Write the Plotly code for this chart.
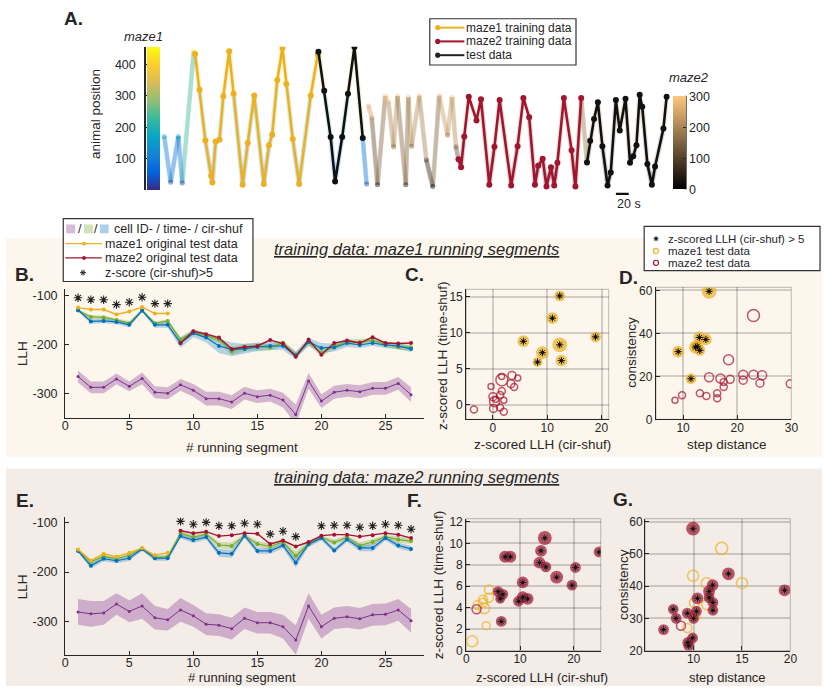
import plotly.graph_objects as go

W, H = 829, 693
def PX(x): return x / W
def PY(y): return 1 - y / H

FONT = "Liberation Sans, Arial, Helvetica, sans-serif"
INK = "#262626"
ORANGE = "#EDB120"; RED = "#A2142F"; BLUE = "#0072BD"; GREEN = "#77AC30"; PURPLE = "#7E2F8E"
BAND1 = "#FDF6EC"; BAND2 = "#F4ECE6"
PARULA = [[0.0, '#352A87'], [0.125, '#0363E1'], [0.25, '#1485D4'], [0.375, '#06A7C6'],
          [0.5, '#38B99E'], [0.625, '#92BF73'], [0.75, '#D9BA56'], [0.875, '#FCCE2E'], [1.0, '#F9FB0E']]
COPPER = [[0.0, '#000000'], [1.0, '#FFC77F']]

# ---------------- Panel A : animal position over time (s) ----------------
m1_pre_t = [28, 38, 50, 56, 74]
m1_pre_pos = [171, 25, 171, 22, 443]
m1_train_t = [76, 83, 92, 101, 103, 108, 114, 120, 129, 136, 150, 158, 168, 183, 191, 196, 204, 212, 218, 228, 238, 256, 267]
m1_train_pos = [434, 320, 158, 45, 24, 155, 160, 299, 443, 307, 17, 150, 302, 19, 143, 176, 351, 453, 338, 163, 19, 302, 432]
m1_test_t = [268, 277, 287, 294, 305, 314, 324, 337]
m1_test_pos = [441, 317, 169, 27, 169, 307, 456, 166]
m1_post_t = [337, 343]
m1_post_pos = [166, 19]

m2_pre_t = [346, 351, 360, 372, 377, 385, 391, 404, 408, 413, 425, 436, 446, 456, 469, 476, 482, 486]
m2_pre_pos = [268, 230, 17, 300, 280, 138, 300, 17, 296, 140, 301, 96, 11, 301, 175, 296, 138, 98]
m2_train_t = [486, 490, 495, 502, 514, 521, 534, 542, 550, 568, 578, 587, 596, 605, 610, 617, 623, 630, 635, 640, 650, 662, 668, 677]
m2_train_pos = [98, 73, 171, 298, 222, 290, 17, 138, 287, 14, 140, 294, 232, 17, 77, 100, 11, 73, 14, 87, 294, 127, 11, 294]
m2_gap_t = [677, 686]
m2_gap_pos = [294, 88]
m2_test_t = [686, 691, 697, 703, 710, 718, 723, 731, 737, 746, 753, 758, 763, 768, 772, 780, 787, 792, 805, 810]
m2_test_pos = [88, 157, 227, 280, 140, 14, 56, 287, 190, 291, 87, 108, 143, 304, 266, 83, 17, 75, 196, 298]
scale_bar_start = 731
scale_bar_len = 20
maze1_max = 457
maze2_max = 300

# ---------------- Panels B / E : LLH per running segment ----------------
segments = list(range(1, 28))
m1_segments = list(range(1, 9))
m2_segments = list(range(9, 28))

b_orange = [-125, -129, -129, -139, -133, -124, -137, -137]
b_blue = [-130, -153, -152, -154, -160, -131, -160, -160, -197, -177, -186, -203, -210, -209, -205, -203, -203, -222, -195, -207, -206, -197, -201, -197, -201, -203, -209]
b_green = [-131, -144, -145, -150, -157, -131, -157, -152, -190, -175, -182, -190, -214, -206, -204, -206, -197, -221, -195, -217, -203, -195, -195, -191, -199, -205, -206]
b_red = [-197, -173, -179, -186, -209, -205, -203, -191, -198, -225, -190, -221, -197, -192, -197, -185, -197, -198, -197]
b_purple = [-265, -287, -287, -270, -285, -269, -297, -299, -282, -293, -310, -310, -317, -299, -306, -303, -313, -342, -274, -315, -297, -293, -296, -289, -289, -279, -302]
b_purple_sd = [12, 12, 12, 11, 10, 12, 12, 12, 12, 13, 14, 14, 14, 13, 13, 13, 15, 20, 16, 14, 13, 13, 13, 13, 13, 13, 15]
b_blue_sd = [3, 5, 5, 5, 5, 3, 6, 6, 10, 8, 10, 14, 14, 10, 8, 8, 8, 8, 8, 10, 8, 8, 6, 6, 6, 6, 6]
b_green_sd = [3, 4, 4, 4, 5, 3, 4, 4, 6, 5, 6, 6, 8, 8, 8, 6, 6, 6, 6, 8, 6, 6, 6, 6, 6, 6, 6]
b_star_x = [1, 2, 3, 4, 5, 6, 7, 8]
b_star_y = [-105, -109, -109, -119, -114, -104, -117, -117]

e_orange = [-154, -177, -163, -169, -161, -151, -166, -161]
e_blue = [-157, -187, -173, -177, -172, -153, -172, -172, -127, -135, -129, -161, -163, -126, -157, -157, -146, -181, -143, -131, -156, -134, -151, -151, -131, -146, -153]
e_green = [-156, -179, -168, -173, -166, -152, -171, -169, -121, -129, -123, -145, -147, -126, -143, -148, -139, -167, -143, -129, -140, -129, -146, -139, -128, -134, -137]
e_red = [-116, -121, -118, -127, -125, -121, -122, -143, -136, -148, -139, -126, -124, -124, -128, -125, -121, -124, -131]
e_purple = [-281, -285, -283, -265, -280, -269, -293, -297, -277, -289, -306, -308, -315, -294, -303, -303, -311, -338, -269, -311, -294, -291, -295, -287, -286, -277, -299]
e_purple_sd = [26, 26, 24, 22, 22, 26, 24, 22, 24, 22, 22, 22, 22, 22, 22, 22, 24, 30, 26, 24, 22, 22, 22, 22, 22, 22, 24]
e_blue_sd = [4, 6, 5, 5, 5, 4, 5, 5, 5, 6, 5, 8, 8, 5, 6, 6, 6, 10, 6, 5, 6, 5, 7, 7, 5, 6, 6]
e_green_sd = [3, 5, 4, 4, 4, 3, 4, 4, 4, 5, 4, 6, 7, 4, 6, 6, 6, 9, 6, 4, 6, 4, 6, 6, 4, 6, 6]
e_star_x = [9, 10, 11, 12, 13, 14, 15, 16, 17, 18, 20, 21, 22, 23, 24, 25, 26, 27]
e_star_y = [-97, -103, -99, -106, -106, -101, -103, -123, -117, -128, -106, -105, -105, -109, -106, -103, -105, -113]

# ---------------- Panel C : z-scores (maze1 training) ----------------
c_m1_x = [12.3, 10.95, 5.6, 18.9, 12.3, 9.1, 8.2, 12.6]
c_m1_y = [15.1, 12.0, 8.8, 9.4, 8.3, 7.2, 5.9, 6.1]
c_m1_s = [9, 10, 10, 9, 13, 11, 8, 10]
c_m2_x = [1.64, 3.5, 4.56, 3.3, 3.9, 1.6, -0.36, 1.64, 1.34, 0.0, 0.3, 2.0, 0.1, 1.3, 2.0, -3.5, 0.5]
c_m2_y = [3.45, 4.05, 3.7, 2.9, 2.45, 3.9, 2.5, 1.87, 1.32, 1.09, 0.4, 0.6, -0.55, -0.4, -1.0, -0.68, 0.73]
c_m2_s = [12, 8, 6, 8, 7, 6, 6, 7, 7, 8, 10, 6, 8, 7, 7, 7, 6]

# ---------------- Panel D : step distance vs consistency (maze1 training) ----------------
d_m1_x = [14.8, 13.0, 14.2, 12.3, 12.6, 13.1, 9.1, 11.45]
d_m1_y = [59.6, 38.1, 37.2, 33.6, 34.0, 32.1, 31.5, 18.9]
d_m1_s = [13, 10, 10, 11, 10, 9, 10, 9]
d_m2_x = [23.0, 18.4, 14.8, 16.9, 17.5, 17.5, 18.7, 21.1, 21.1, 23.0, 24.6, 24.2, 29.8, 13.1, 14.3, 16.3, 16.3, 9.8, 8.5]
d_m2_y = [48.3, 27.7, 19.6, 19.0, 17.4, 15.0, 18.6, 20.8, 18.2, 20.8, 20.5, 16.8, 16.5, 12.1, 10.9, 12.1, 9.8, 11.2, 8.9]
d_m2_s = [12, 10, 9, 9, 7, 7, 8, 9, 8, 9, 9, 8, 8, 7, 7, 7, 7, 7, 6]

# ---------------- Panel F : z-scores (maze2 training) ----------------
f_m2_x = [14.6, 13.9, 24.7, 7.2, 8.2, 13.6, 14.8, 20.3, 16.8, 10.5, 19.65, 5.9, 6.8, 6.3, 10.5, 9.7, 11.4, 6.5]
f_m2_y = [10.5, 9.3, 9.2, 8.75, 8.75, 8.2, 7.8, 7.75, 6.85, 6.36, 6.1, 5.5, 5.25, 4.83, 4.98, 4.6, 4.83, 2.72]
f_m2_s = [12, 10, 9, 10, 10, 10, 9, 9, 11, 10, 9, 9, 9, 8, 10, 9, 10, 9]
f_m2_open_x = [1.9]
f_m2_open_y = [3.85]
f_m1_x = [4.2, 4.2, 3.1, 3.1, 2.15, 3.3, 3.7, 1.1]
f_m1_y = [5.7, 4.93, 4.75, 4.45, 4.25, 3.95, 2.32, 0.86]
f_m1_s = [9, 9, 9, 9, 9, 11, 8, 11]

# ---------------- Panel G : step distance vs consistency (maze2 training) ----------------
g_m2_x = [9.95, 13.6, 19.4, 11.97, 11.6, 10.4, 11.6, 12.0, 12.0, 10.3, 7.9, 9.35, 8.2, 10.0, 6.9, 9.9, 9.4, 9.5]
g_m2_y = [57.8, 43.8, 38.7, 40.3, 38.4, 36.2, 36.4, 34.9, 32.5, 32.2, 32.8, 31.6, 30.0, 30.0, 26.5, 23.9, 22.5, 21.5]
g_m2_s = [12, 11, 10, 10, 10, 10, 9, 9, 9, 9, 9, 9, 9, 9, 9, 9, 9, 9]
g_m2_open_x = [8.7]
g_m2_open_y = [27.7]
g_m1_x = [12.9, 9.95, 15.0, 11.36, 10.1, 11.36, 10.15, 9.35]
g_m1_y = [51.7, 43.2, 40.9, 40.9, 34.8, 34.2, 30.9, 27.0]
g_m1_s = [12, 11, 11, 11, 10, 10, 10, 9]

# ---------------- helpers ----------------
def hex2rgb(h):
    h = h.lstrip('#')
    return tuple(int(h[i:i + 2], 16) for i in (0, 2, 4))

def cmap(scale, v):
    v = min(max(v, 0.0), 1.0)
    for (p0, c0), (p1, c1) in zip(scale[:-1], scale[1:]):
        if v <= p1:
            f = (v - p0) / (p1 - p0) if p1 > p0 else 0
            a, b = hex2rgb(c0), hex2rgb(c1)
            return 'rgb(%d,%d,%d)' % tuple(round(a[i] + (b[i] - a[i]) * f) for i in range(3))
    return scale[-1][1]

fig = go.Figure()

def faded(t, p, scale, vmax, width, opacity):
    for i in range(len(t) - 1):
        col = cmap(scale, (p[i] + p[i + 1]) / 2 / vmax)
        fig.add_trace(go.Scatter(x=[t[i], t[i + 1]], y=[p[i], p[i + 1]], mode='lines',
                                 line=dict(color=col, width=width), opacity=opacity,
                                 hoverinfo='skip', xaxis='x', yaxis='y'))
    fig.add_trace(go.Scatter(x=t, y=p, mode='markers', opacity=opacity, hoverinfo='skip',
                             marker=dict(size=5, color=p, colorscale=scale, cmin=0, cmax=vmax),
                             xaxis='x', yaxis='y'))

m1_all_t = m1_pre_t + m1_train_t + m1_test_t + m1_post_t
m1_all_p = m1_pre_pos + m1_train_pos + m1_test_pos + m1_post_pos
m2_all_t = m2_pre_t + m2_train_t + m2_gap_t + m2_test_t
m2_all_p = m2_pre_pos + m2_train_pos + m2_gap_pos + m2_test_pos
faded(m1_all_t, m1_all_p, PARULA, maze1_max, 5, 0.2)
faded(m2_all_t, m2_all_p, COPPER, maze2_max, 5, 0.2)
faded(m1_pre_t, m1_pre_pos, PARULA, maze1_max, 4, 0.3)
faded(m1_post_t, m1_post_pos, PARULA, maze1_max, 4, 0.3)
faded(m2_pre_t, m2_pre_pos, COPPER, maze2_max, 4, 0.3)
faded(m2_gap_t, m2_gap_pos, COPPER, maze2_max, 4, 0.3)

def main_line(t, p, col):
    fig.add_trace(go.Scatter(x=t, y=p, mode='lines+markers', line=dict(color=col, width=2.6),
                             marker=dict(color=col, size=6), hoverinfo='skip', xaxis='x', yaxis='y'))
main_line(m1_train_t, m1_train_pos, ORANGE)
main_line(m1_test_t, m1_test_pos, '#111111')
main_line(m2_train_t, m2_train_pos, RED)
main_line(m2_test_t, m2_test_pos, '#111111')

fig.add_trace(go.Scatter(x=[-1000], y=[-1000], mode='markers', hoverinfo='skip', xaxis='x', yaxis='y',
                         marker=dict(color=[0], colorscale=PARULA, cmin=0, cmax=maze1_max, showscale=True,
                                     colorbar=dict(x=PX(146), xanchor='left', xpad=0, y=PY(189), yanchor='bottom',
                                                   ypad=0, len=(189 - 43.5) / H, thickness=13, outlinewidth=0,
                                                   showticklabels=False, ticks=''))))
fig.add_trace(go.Scatter(x=[-1000], y=[-1000], mode='markers', hoverinfo='skip', xaxis='x', yaxis='y',
                         marker=dict(color=[0], colorscale=COPPER, cmin=0, cmax=maze2_max, showscale=True,
                                     colorbar=dict(x=PX(678), xanchor='left', xpad=0, y=PY(188.3), yanchor='bottom',
                                                   ypad=0, len=(188.3 - 93.3) / H, thickness=13, outlinewidth=0,
                                                   tickvals=[0, 100, 200, 300], ticks='inside', ticklen=3,
                                                   tickcolor=INK, tickfont=dict(size=12.5, color=INK, family=FONT)))))

# ---------------- Panels B & E ----------------
def band(x, mean, sd, fill, ax, ay):
    up = [m + s for m, s in zip(mean, sd)]
    lo = [m - s for m, s in zip(mean, sd)]
    fig.add_trace(go.Scatter(x=x, y=up, mode='lines', line=dict(width=0), hoverinfo='skip', xaxis=ax, yaxis=ay))
    fig.add_trace(go.Scatter(x=x, y=lo, mode='lines', line=dict(width=0), fill='tonexty', fillcolor=fill,
                             hoverinfo='skip', xaxis=ax, yaxis=ay))

def llh_line(x, y, col, ax, ay, w=1.2, ms=4):
    fig.add_trace(go.Scatter(x=x, y=y, mode='lines+markers', line=dict(color=col, width=w),
                             marker=dict(color=col, size=ms), hoverinfo='skip', xaxis=ax, yaxis=ay))

def llh_panel(ax, ay, purple, psd, green, gsd, blue, bsd, orange, red, sx, sy):
    band(segments, purple, psd, 'rgba(126,47,142,0.33)', ax, ay)
    llh_line(segments, purple, PURPLE, ax, ay, w=1.0, ms=3)
    band(segments, green, gsd, 'rgba(119,172,48,0.30)', ax, ay)
    band(segments, blue, bsd, 'rgba(0,114,189,0.28)', ax, ay)
    llh_line(segments, green, GREEN, ax, ay)
    llh_line(segments, blue, BLUE, ax, ay)
    llh_line(m1_segments, orange, ORANGE, ax, ay, w=1.4)
    llh_line(m2_segments, red, RED, ax, ay, w=1.4)
    fig.add_trace(go.Scatter(x=sx, y=sy, mode='markers', hoverinfo='skip', xaxis=ax, yaxis=ay,
                             marker=dict(symbol='asterisk-open', size=7, color='#222',
                                         line=dict(width=1.1, color='#222'))))

llh_panel('x2', 'y2', b_purple, b_purple_sd, b_green, b_green_sd, b_blue, b_blue_sd, b_orange, b_red, b_star_x, b_star_y)
llh_panel('x5', 'y5', e_purple, e_purple_sd, e_green, e_green_sd, e_blue, e_blue_sd, e_orange, e_red, e_star_x, e_star_y)

# ---------------- scatter panels ----------------
def pts(x, y, s, ax, ay, line_col, fill, lw=1.5):
    fig.add_trace(go.Scatter(x=x, y=y, mode='markers', hoverinfo='skip', xaxis=ax, yaxis=ay,
                             marker=dict(size=s, color=fill, line=dict(color=line_col, width=lw))))

def stars(x, y, ax, ay, col='#111'):
    fig.add_trace(go.Scatter(x=x, y=y, mode='markers', hoverinfo='skip', xaxis=ax, yaxis=ay,
                             marker=dict(symbol='asterisk-open', size=6, color=col, line=dict(width=1, color=col))))
    fig.add_trace(go.Scatter(x=x, y=y, mode='markers', hoverinfo='skip', xaxis=ax, yaxis=ay,
                             marker=dict(size=3, color='#111')))

NOFILL = 'rgba(0,0,0,0)'
pts(c_m2_x, c_m2_y, c_m2_s, 'x3', 'y3', RED, NOFILL)
pts(c_m1_x, c_m1_y, c_m1_s, 'x3', 'y3', ORANGE, ORANGE, lw=1.8)
stars(c_m1_x, c_m1_y, 'x3', 'y3')
pts(d_m2_x, d_m2_y, d_m2_s, 'x4', 'y4', RED, NOFILL)
pts(d_m1_x, d_m1_y, d_m1_s, 'x4', 'y4', ORANGE, ORANGE, lw=1.8)
stars(d_m1_x, d_m1_y, 'x4', 'y4')
pts(f_m1_x, f_m1_y, f_m1_s, 'x6', 'y6', ORANGE, NOFILL)
pts(f_m2_open_x, f_m2_open_y, [9], 'x6', 'y6', RED, NOFILL)
pts(f_m2_x, f_m2_y, f_m2_s, 'x6', 'y6', RED, RED, lw=1.8)
stars(f_m2_x, f_m2_y, 'x6', 'y6', col='#2a2a2a')
pts(g_m1_x, g_m1_y, g_m1_s, 'x7', 'y7', ORANGE, NOFILL)
pts(g_m2_open_x, g_m2_open_y, [9], 'x7', 'y7', RED, NOFILL)
pts(g_m2_x, g_m2_y, g_m2_s, 'x7', 'y7', RED, RED, lw=1.8)
stars(g_m2_x, g_m2_y, 'x7', 'y7', col='#2a2a2a')

# ---------------- axes ----------------
def ax_style(**kw):
    d = dict(showline=True, linecolor=INK, linewidth=1.3, ticks='inside', ticklen=4, tickwidth=1,
             tickcolor=INK, showgrid=False, zeroline=False, fixedrange=True,
             tickfont=dict(size=12.5, color=INK, family=FONT))
    d.update(kw)
    return d

def xd(a, b): return [PX(a), PX(b)]
def yd(top, bot): return [PY(bot), PY(top)]

GRID = dict(showgrid=True, gridcolor='rgba(0,0,0,0.17)', gridwidth=1.5)
SCAT_TICK = dict(size=12, color=INK, family=FONT)

layout_axes = dict(
    xaxis=dict(domain=xd(145, 675), range=[0, 815], visible=False, anchor='y', fixedrange=True),
    yaxis=ax_style(domain=yd(43.5, 189), range=[0, maze1_max], tickvals=[100, 200, 300, 400], anchor='x',
                   linewidth=2, ticklen=3, ticklabelstandoff=6),
    xaxis2=ax_style(domain=xd(63, 426), range=[0, 28], tickvals=[0, 5, 10, 15, 20, 25], anchor='y2', ticklabelstandoff=-4),
    yaxis2=ax_style(domain=yd(290, 421), range=[-350, -88], tickvals=[-100, -200, -300],
                    ticktext=['-100', '-200', '-300'], anchor='x2', ticklabelstandoff=4),
    xaxis5=ax_style(domain=xd(63, 426), range=[0, 28], tickvals=[0, 5, 10, 15, 20, 25], anchor='y5', ticklabelstandoff=-4),
    yaxis5=ax_style(domain=yd(521.7, 661.7), range=[-369, -89], tickvals=[-100, -200, -300],
                    ticktext=['-100', '-200', '-300'], anchor='x5', ticklabelstandoff=4),
    xaxis3=ax_style(domain=xd(469, 613), range=[-4.9, 21.3], tickvals=[0, 10, 20], anchor='y3', tickfont=SCAT_TICK, ticklabelstandoff=-3, **GRID),
    yaxis3=ax_style(domain=yd(290, 422), range=[-2.05, 16], tickvals=[0, 5, 10, 15], anchor='x3', tickfont=SCAT_TICK, **GRID),
    xaxis4=ax_style(domain=xd(661, 798), range=[5, 30], tickvals=[10, 20, 30], anchor='y4', tickfont=SCAT_TICK, ticklabelstandoff=-3, **GRID),
    yaxis4=ax_style(domain=yd(288, 422), range=[0, 61.4], tickvals=[0, 20, 40, 60], anchor='x4', tickfont=SCAT_TICK, **GRID),
    xaxis6=ax_style(domain=xd(469, 605), range=[0, 25], tickvals=[0, 10, 20], anchor='y6', tickfont=SCAT_TICK, ticklabelstandoff=-3, **GRID),
    yaxis6=ax_style(domain=yd(523, 657), range=[0, 12.3], tickvals=[0, 2, 4, 6, 8, 10, 12], anchor='x6', tickfont=SCAT_TICK, **GRID),
    xaxis7=ax_style(domain=xd(650, 797), range=[5, 20], tickvals=[10, 15, 20], anchor='y7', tickfont=SCAT_TICK, ticklabelstandoff=-3, **GRID),
    yaxis7=ax_style(domain=yd(523, 657), range=[20, 60.9], tickvals=[20, 30, 40, 50, 60], anchor='x7', tickfont=SCAT_TICK, ticklabelstandoff=-1, **GRID),
)

# ---------------- shapes ----------------
shapes = []
def prect(x0, y0, x1, y1, fill, lc=None, lw=0, layer='above'):
    shapes.append(dict(type='rect', xref='paper', yref='paper', x0=PX(x0), x1=PX(x1), y0=PY(y1), y1=PY(y0),
                       fillcolor=fill, line=dict(color=lc or fill, width=lw), layer=layer))
def pline(x0, y0, x1, y1, col, w):
    shapes.append(dict(type='line', xref='paper', yref='paper', x0=PX(x0), x1=PX(x1), y0=PY(y0), y1=PY(y1),
                       line=dict(color=col, width=w), layer='above'))
def pdot(cx, cy, r, fill, lc=None, lw=0):
    shapes.append(dict(type='circle', xref='paper', yref='paper', x0=PX(cx - r), x1=PX(cx + r),
                       y0=PY(cy + r), y1=PY(cy - r), fillcolor=fill, line=dict(color=lc or fill, width=lw), layer='above'))
def pstar(cx, cy, r, col='#222', w=1):
    k = r * 0.7
    for dx, dy in [(r, 0), (0, r), (k, k), (k, -k)]:
        pline(cx - dx, cy - dy, cx + dx, cy + dy, col, w)

prect(3, 238, 829, 460, BAND1, layer='below')
prect(3, 472, 829, 693, BAND2, layer='below')
for a in ['3', '4', '6', '7']:
    shapes.append(dict(type='rect', xref='x%s domain' % a, yref='y%s domain' % a, x0=0, x1=1, y0=0, y1=1,
                       line=dict(color='rgba(0,0,0,0.2)', width=1.2), layer='below'))
pline(691, 93.3, 691, 188.3, INK, 2)
shapes.append(dict(type='line', xref='x', yref='paper', x0=scale_bar_start, x1=scale_bar_start + scale_bar_len,
                   y0=PY(193), y1=PY(193), line=dict(color='#111', width=2.2)))

# legend A
prect(432, 15, 580, 62, 'white', '#333', 1.2)
for yy, col in [(24, ORANGE), (38, RED), (52, '#222')]:
    pline(440, yy, 467, yy, col, 2)
    pdot(440, yy, 2.6, col)
# legend B
prect(61, 218, 253, 282, 'white', '#333', 1.2)
prect(64, 224, 73, 233, 'rgba(126,47,142,0.33)')
prect(82, 224, 91, 233, 'rgba(119,172,48,0.35)')
prect(98, 224, 107, 233, 'rgba(0,114,189,0.33)')
for yy, col in [(243.5, ORANGE), (258, RED)]:
    pline(63, yy, 100, yy, col, 1.3)
    pdot(82, yy, 2, col)
pstar(81, 273, 3)
# legend D
prect(649, 226, 827, 271, 'white', '#333', 1.2)
pstar(661, 238.5, 2.5)
pdot(661, 238.5, 1.2, '#111')
pdot(661, 251, 2.6, 'rgba(0,0,0,0)', ORANGE, 1.2)
pdot(661, 263, 2.6, 'rgba(0,0,0,0)', RED, 1.2)

# ---------------- annotations ----------------
ann = []
def txt(x, y, s, size=13, angle=0, xanchor='center', yanchor='middle', color=INK):
    ann.append(dict(x=PX(x), y=PY(y), xref='paper', yref='paper', text=s, showarrow=False, textangle=angle,
                    xanchor=xanchor, yanchor=yanchor, borderpad=0, font=dict(size=size, color=color, family=FONT)))

for s, x, y in [('A.', 71, 15), ('B.', 22, 275), ('C.', 417, 275), ('D.', 633, 278),
                ('E.', 22, 505), ('F.', 417, 504), ('G.', 628, 503)]:
    txt(x, y, '<b>%s</b>' % s, size=19)
txt(419, 249, '<i><u>training data: maze1 running segments</u></i>', size=16.5)
txt(419, 481, '<i><u>training data: maze2 running segments</u></i>', size=16.5)
txt(93, 112, 'animal position', size=13.5, angle=-90)
txt(142, 33, '<i>maze1</i>', size=13)
txt(694, 75, '<i>maze2</i>', size=13)
txt(620, 203, '20 s', size=12.5, xanchor='left')
txt(468, 24, 'maze1 training data', size=12, xanchor='left')
txt(468, 38, 'maze2 training data', size=12, xanchor='left')
txt(468, 52, 'test data', size=12, xanchor='left')
txt(77.5, 228.5, '/', size=12.5)
txt(94.5, 228.5, '/', size=12.5)
txt(111, 229, 'cell ID- / time- / cir-shuf', size=12.5, xanchor='left')
txt(102, 243.5, 'maze1 original test data', size=12.5, xanchor='left')
txt(102, 258, 'maze2 original test data', size=12.5, xanchor='left')
txt(102, 273, 'z-score (cir-shuf)>5', size=12.5, xanchor='left')
txt(672, 238.5, 'z-scored LLH (cir-shuf) > 5', size=11.5, xanchor='left')
txt(672, 251, 'maze1 test data', size=11.5, xanchor='left')
txt(672, 263, 'maze2 test data', size=11.5, xanchor='left')
txt(20, 355, 'LLH', size=13.5, angle=-90)
txt(242, 451, '# running segment', size=13.5)
txt(20, 592, 'LLH', size=13.5, angle=-90)
txt(242, 684, '# running segment', size=13)
txt(445, 357, 'z-scored LLH (time-shuf)', size=13.5, angle=-90)
txt(546, 448, 'z-scored LLH (cir-shuf)', size=13.5)
txt(636, 354, 'consistency', size=13.5, angle=-90)
txt(733, 448, 'step distance', size=13.5)
txt(441, 590, 'z-scored LLH (time-shuf)', size=13.5, angle=-90)
txt(546, 684, 'z-scored LLH (cir-shuf)', size=13)
txt(628, 590, 'consistency', size=13.5, angle=-90)
txt(733, 684, 'step distance', size=13)

fig.update_layout(width=W, height=H, margin=dict(l=0, r=0, t=0, b=0), paper_bgcolor='white',
                  plot_bgcolor='rgba(0,0,0,0)', showlegend=False,
                  font=dict(family=FONT, size=12, color=INK), shapes=shapes, annotations=ann, **layout_axes)
fig.write_html("out.html", config={'displayModeBar': False},
               post_script="document.body.style.margin='0';document.body.style.overflow='hidden';")
